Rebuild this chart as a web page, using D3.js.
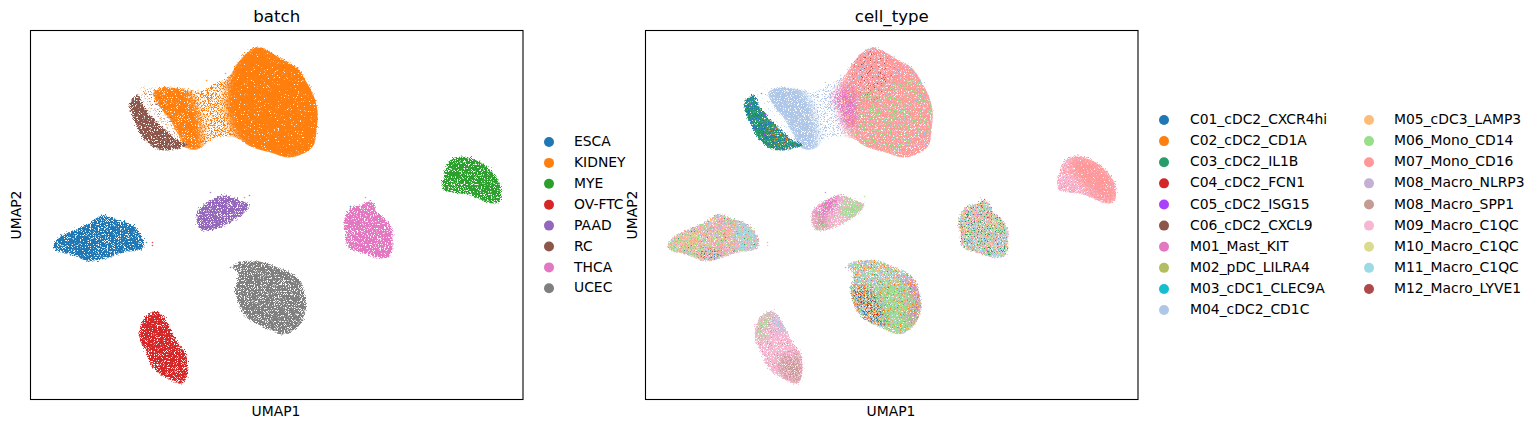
<!DOCTYPE html>
<html><head><meta charset="utf-8">
<script src="https://cdn.jsdelivr.net/npm/d3@7/dist/d3.min.js"></script>
<style>html,body{margin:0;padding:0;background:#fff}svg{display:block}text{font-family:"DejaVu Sans";fill:#000}</style>
</head><body><svg id="c" width="1540" height="429"></svg>
<script>
// Read-off UMAP positions (the original axes carry no ticks, so units are arbitrary).
// Individual cells cannot be recovered from the picture: clusters are hand-read outlines.
// The speckle is an SVG grain texture (style only, it encodes no values).
const batches=["ESCA","KIDNEY","MYE","OV-FTC","PAAD","RC","THCA","UCEC"];
const batchColors=["#1f77b4","#ff7f0e","#2ca02c","#d62728","#9467bd","#8c564b","#e377c2","#7f7f7f"];
const cellTypes=["C01_cDC2_CXCR4hi","C02_cDC2_CD1A","C03_cDC2_IL1B","C04_cDC2_FCN1","C05_cDC2_ISG15","C06_cDC2_CXCL9","M01_Mast_KIT","M02_pDC_LILRA4","M03_cDC1_CLEC9A","M04_cDC2_CD1C","M05_cDC3_LAMP3","M06_Mono_CD14","M07_Mono_CD16","M08_Macro_NLRP3","M08_Macro_SPP1","M09_Macro_C1QC","M10_Macro_C1QC","M11_Macro_C1QC","M12_Macro_LYVE1"];
const cellColors=["#1f77b4","#ff7f0e","#279e68","#d62728","#aa40fc","#8c564b","#e377c2","#b5bd61","#17becf","#aec7e8","#ffbb78","#98df8a","#ff9896","#c5b0d5","#c49c94","#f7b6d2","#dbdb8d","#9edae5","#ad494a"];

const kidneyAll=[[227,17],[240,22],[253,30],[267,38],[275,50],[283,65],[287,80],[286,100],[283,115],[273,123],[258,127],[240,122],[220,116],[207,108],[193,107],[177,112],[170,118],[157,118],[147,103],[138,87],[128,75],[123,62],[137,57],[153,59],[170,62],[183,55],[197,48],[207,33],[217,22]];
const kidneyMain=[[227,12],[245,17],[258,25],[272,33],[280,45],[288,60],[292,80],[291,100],[288,120],[273,128],[258,132],[240,127],[220,121],[207,110],[198,90],[195,70],[197,50],[205,30],[215,17]];
const kidneyBand=[[120,58],[137,52],[153,56],[165,72],[170,90],[172,110],[170,122],[155,122],[145,105],[136,90],[124,78]];
const kidneyPink=[[187,68],[200,55],[210,63],[210,97],[197,95],[195,83]];
const kidneyGreen=[[213,65],[240,55],[275,50],[290,80],[290,100],[270,112],[250,122],[220,118],[208,108],[212,85]];
const kidneyTop=[[215,25],[240,22],[250,40],[235,70],[215,65],[207,45]];
const rcAll=[[108,65],[113,75],[122,87],[133,98],[147,110],[157,115],[147,118],[135,120],[123,117],[112,107],[105,93],[99,75],[102,68]];
const rcEdge=[[117,77],[127,80],[143,103],[147,117],[133,117],[123,100]];
const rcGap=[[110,62],[125,63],[140,90],[158,116],[146,108],[125,85]];
const paadAll=[[193,165],[210,170],[219,175],[213,183],[200,192],[180,200],[170,199],[166,190],[168,180],[177,172]];
const paadLeftTop=[[168,183],[182,165],[195,168],[188,180],[175,190]];
const paadBottom=[[168,187],[180,188],[183,198],[170,198]];
const paadRight=[[202,170],[220,173],[215,183],[202,190],[195,180]];
const escaAll=[[72,185],[88,190],[102,195],[112,208],[112,218],[93,222],[75,228],[60,231],[43,225],[23,218],[28,208],[43,200],[60,193]];
const escaLeft=[[23,218],[28,208],[43,200],[52,198],[55,228],[43,225]];
const escaRight=[[88,190],[102,195],[112,208],[112,218],[93,222],[90,205]];
const escaBottom=[[45,222],[78,222],[75,229],[60,232]];
const thcaAll=[[340,170],[347,182],[360,195],[362,210],[360,225],[350,228],[333,223],[318,217],[315,203],[314,190],[320,178],[333,174]];
const ucecAll=[[203,235],[227,231],[247,237],[267,248],[273,260],[275,280],[267,297],[253,304],[237,298],[217,288],[208,273],[205,260],[208,245]];
const ucecLowerLeft=[[205,260],[225,260],[240,298],[217,288],[208,273]];
const ucecEdge=[[265,247],[276,273],[268,293],[262,290],[268,270],[258,247]];
const ucecGreen=[[232,255],[270,262],[272,290],[255,304],[235,295]];
const ovAll=[[127,281],[137,293],[147,313],[155,323],[156,347],[152,353],[137,348],[123,338],[115,320],[109,307],[112,292],[118,284]];
const ovBottom=[[135,327],[155,327],[155,352],[138,347]];
const ovTop=[[112,300],[115,287],[125,283],[122,293],[118,310]];
const ovTopRight=[[127,283],[142,297],[138,303],[130,297]];
const myeAll=[[430,126],[447,130],[460,140],[470,155],[468,172],[457,172],[440,165],[423,162],[413,159],[415,140],[420,130]];
const myeLeft=[[415,135],[430,145],[448,150],[450,167],[420,163],[413,158]];
const myeRight=[[425,128],[447,130],[460,140],[470,155],[468,172],[457,172],[445,160],[430,145]];
// region -> the cluster outline that contains it (its faded edge is cut there)
const regionParent=[[kidneyMain,kidneyAll],[kidneyBand,kidneyAll],[kidneyPink,kidneyAll],[kidneyGreen,kidneyAll],[kidneyTop,kidneyAll],[rcEdge,rcAll],[paadLeftTop,paadAll],[paadBottom,paadAll],[paadRight,paadAll],[escaLeft,escaAll],[escaRight,escaAll],[escaBottom,escaAll],[ucecLowerLeft,ucecAll],[ucecEdge,ucecAll],[ucecGreen,ucecAll],[ovBottom,ovAll],[ovTop,ovAll],[ovTopRight,ovAll],[myeLeft,myeAll],[myeRight,myeAll]];
const softRegions=regionParent.map(d=>d[0]).concat([rcGap]);

// [category, outline, density level]
const batchLayers=[["KIDNEY",kidneyAll,"sparse"],["KIDNEY",kidneyAll,"sparse"],["KIDNEY",kidneyMain,"near"],["KIDNEY",kidneyBand,"dense"],["RC",rcGap,"rare"],["KIDNEY",rcGap,"rare"],["RC",rcAll,"dense"],["PAAD",paadAll,"dense"],["ESCA",escaAll,"dense"],["THCA",thcaAll,"dense"],["UCEC",ucecAll,"dense"],["OV-FTC",ovAll,"dense"],["MYE",myeAll,"dense"]];
const cellLayers=[
["M04_cDC2_CD1C",kidneyAll,"sparse"],["M07_Mono_CD16",kidneyMain,"dense"],["M06_Mono_CD14",kidneyGreen,"sparse"],["M01_Mast_KIT",kidneyPink,"mid"],["M12_Macro_LYVE1",kidneyTop,"rare"],["M11_Macro_C1QC",kidneyMain,"trace"],["M09_Macro_C1QC",kidneyMain,"rare"],
["M04_cDC2_CD1C",kidneyBand,"dense"],["M04_cDC2_CD1C",rcGap,"rare"],
["C01_cDC2_CXCR4hi",rcAll,"dense"],["C03_cDC2_IL1B",rcAll,"mid"],["C02_cDC2_CD1A",rcEdge,"sparse"],["C05_cDC2_ISG15",rcAll,"trace"],["C04_cDC2_FCN1",rcEdge,"trace"],
["M09_Macro_C1QC",paadAll,"dense"],["M06_Mono_CD14",paadRight,"mid"],["M06_Mono_CD14",paadAll,"rare"],["M01_Mast_KIT",paadLeftTop,"mid"],["M08_Macro_SPP1",paadBottom,"mid"],["M04_cDC2_CD1C",paadAll,"trace"],
["M08_Macro_NLRP3",escaAll,"mid"],["M09_Macro_C1QC",escaAll,"mid"],["M10_Macro_C1QC",escaAll,"sparse"],["M10_Macro_C1QC",escaLeft,"mid"],["M06_Mono_CD14",escaAll,"sparse"],["M07_Mono_CD16",escaAll,"sparse"],["M05_cDC3_LAMP3",escaAll,"rare"],["M04_cDC2_CD1C",escaAll,"rare"],["M11_Macro_C1QC",escaRight,"mid"],["C03_cDC2_IL1B",escaAll,"trace"],["C01_cDC2_CXCR4hi",escaBottom,"rare"],["C04_cDC2_FCN1",escaBottom,"trace"],
["M04_cDC2_CD1C",ucecAll,"mid"],["M07_Mono_CD16",ucecAll,"sparse"],["M05_cDC3_LAMP3",ucecAll,"sparse"],["M06_Mono_CD14",ucecGreen,"mid"],["M06_Mono_CD14",ucecAll,"sparse"],["M11_Macro_C1QC",ucecAll,"rare"],["M01_Mast_KIT",ucecEdge,"mid"],["C01_cDC2_CXCR4hi",ucecLowerLeft,"sparse"],["C02_cDC2_CD1A",ucecLowerLeft,"rare"],["C04_cDC2_FCN1",ucecLowerLeft,"rare"],["C03_cDC2_IL1B",ucecAll,"trace"],["C02_cDC2_CD1A",ucecAll,"rare"],
["M09_Macro_C1QC",ovAll,"dense"],["M08_Macro_SPP1",ovAll,"rare"],["M08_Macro_SPP1",ovBottom,"mid"],["M06_Mono_CD14",ovTop,"mid"],["M04_cDC2_CD1C",ovTopRight,"mid"],
["M07_Mono_CD16",thcaAll,"mid"],["M04_cDC2_CD1C",thcaAll,"sparse"],["M09_Macro_C1QC",thcaAll,"sparse"],["M06_Mono_CD14",thcaAll,"sparse"],["M01_Mast_KIT",thcaAll,"rare"],["M05_cDC3_LAMP3",thcaAll,"rare"],["M10_Macro_C1QC",thcaAll,"sparse"],["M11_Macro_C1QC",thcaAll,"sparse"],["C03_cDC2_IL1B",thcaAll,"rare"],["C01_cDC2_CXCR4hi",thcaAll,"trace"],
["M09_Macro_C1QC",myeAll,"dense"],["M07_Mono_CD16",myeAll,"sparse"],["M07_Mono_CD16",myeRight,"dense"],["M04_cDC2_CD1C",myeLeft,"trace"]
];
// stray cells visible outside the cluster outlines: [category, x, y]
const batchStrays=[["OV-FTC",122,212],["OV-FTC",122,215],["ESCA",200,237],["ESCA",209,232],["KIDNEY",228,231],["KIDNEY",214,167],["ESCA",320,176],["KIDNEY",195,43],["KIDNEY",176,50],["KIDNEY",116,63],["PAAD",180,162],["ESCA",116,212],["THCA",335,167],["PAAD",219,165]];
const cellStrays=[["M07_Mono_CD16",122,212],["M09_Macro_C1QC",122,215],["M01_Mast_KIT",200,237],["M09_Macro_C1QC",203,240],["M11_Macro_C1QC",227,231],["M11_Macro_C1QC",195,45],["M06_Mono_CD14",180,52],["C05_cDC2_ISG15",116,63],["M01_Mast_KIT",180,162],["M06_Mono_CD14",219,166],["M09_Macro_C1QC",335,167]];
const levelNames=["near","dense","mid","sparse","rare","trace"];
const levelCut=[3.4,4.2,5.2,6.5,7.4,8.2];

const W=492.5,H=369;
const panels=[
 {title:"batch",left:30.5,cats:batches,cols:batchColors,layers:batchLayers,strays:batchStrays,xlab:276,ylab:16},
 {title:"cell_type",left:645.5,cats:cellTypes,cols:cellColors,layers:cellLayers,strays:cellStrays,xlab:891,ylab:632}
];
const svg=d3.select("#c"), defs=svg.append("defs");
const levelIndex=d3.scaleOrdinal(levelNames,levelCut);
let seed=0;
function grain(level,soft){
  seed+=1;
  const id="g"+seed;
  const f=defs.append("filter").attr("id",id).attr("x","-40%").attr("y","-40%").attr("width","180%").attr("height","180%").attr("color-interpolation-filters","sRGB");
  f.append("feGaussianBlur").attr("in","SourceGraphic").attr("stdDeviation",soft?3.5:0.7).attr("result","b");
  f.append("feTurbulence").attr("type","fractalNoise").attr("baseFrequency",1.3).attr("numOctaves",1).attr("seed",seed*7+3).attr("result","n");
  f.append("feDisplacementMap").attr("in","b").attr("in2","n").attr("scale",8).attr("xChannelSelector","R").attr("yChannelSelector","G").attr("result","d");
  f.append("feColorMatrix").attr("in","n").attr("type","matrix").attr("values",`0 0 0 0 0 0 0 0 0 0 0 0 0 0 0 0 12 0 0 ${-levelIndex(level)}`).attr("result","m");
  f.append("feComposite").attr("in","d").attr("in2","m").attr("operator","in");
  return id;
}
panels.forEach((p,pi)=>{
  const x=d3.scaleLinear().domain([0,W]).range([p.left,p.left+W]);
  const y=d3.scaleLinear().domain([0,H]).range([30.5,30.5+H]);
  const color=d3.scaleOrdinal(p.cats,p.cols);
  const line=d3.line().x(d=>x(d[0])).y(d=>y(d[1])).curve(d3.curveCatmullRomClosed.alpha(0.5));
  regionParent.forEach((r,i)=>{
    defs.append("clipPath").attr("id",`clip${pi}_${i}`).append("path").attr("d",line(r[1]));
  });
  const g=svg.append("g");
  const holders=g.selectAll("g").data(p.layers).join("g")
    .attr("clip-path",d=>{
      const i=regionParent.findIndex(r=>r[0]===d[1]);
      return i<0?null:`url(#clip${pi}_${i})`;
    });
  holders.append("path")
    .attr("d",d=>line(d[1])).attr("fill",d=>color(d[0]))
    .attr("filter",d=>`url(#${grain(d[2],softRegions.includes(d[1]))})`);
  g.selectAll("circle").data(p.strays).join("circle")
    .attr("cx",d=>x(d[1])).attr("cy",d=>y(d[2])).attr("r",0.8).attr("fill",d=>color(d[0])).attr("opacity",0.8);
  svg.append("rect").attr("x",p.left).attr("y",30.5).attr("width",W).attr("height",H).attr("fill","none").attr("stroke","#000").attr("stroke-width",1.1);
  svg.append("text").attr("x",p.left+W/2).attr("y",22).attr("text-anchor","middle").style("font-size","16.6px").text(p.title);
  svg.append("text").attr("x",p.xlab).attr("y",416).attr("text-anchor","middle").style("font-size","13.9px").text("UMAP1");
  svg.append("text").attr("transform",`translate(${p.ylab+5},215) rotate(-90)`).attr("text-anchor","middle").style("font-size","13.9px").text("UMAP2");
});
// legends
function legend(items,cols,mx,tx,y0,step){
  const l=svg.append("g");
  const row=d3.scaleLinear().domain([0,1]).range([y0,y0+step]);
  l.selectAll("circle").data(items).join("circle").attr("cx",mx).attr("cy",(d,i)=>row(i)).attr("r",5).attr("fill",(d,i)=>cols[i]);
  l.selectAll("text").data(items).join("text").attr("x",tx).attr("y",(d,i)=>row(i)+4.1).style("font-size","13.9px").text(d=>d);
}
legend(batches,batchColors,549,574,142,20.9);
legend(cellTypes.slice(0,10),cellColors.slice(0,10),1164,1190,120,21.12);
legend(cellTypes.slice(10),cellColors.slice(10),1369,1394,120,21.12);
</script></body></html>
